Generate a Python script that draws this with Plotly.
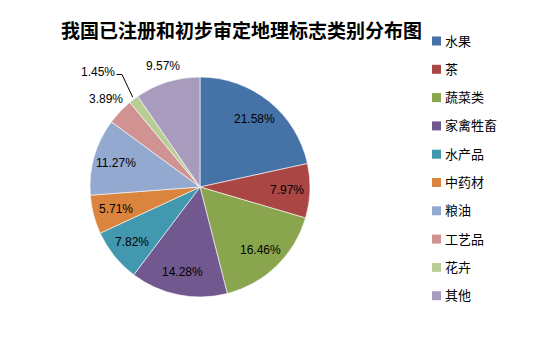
import math
import plotly.graph_objects as go

categories = ["水果", "茶", "蔬菜类", "家禽牲畜", "水产品", "中药材", "粮油", "工艺品", "花卉", "其他"]
shares = [21.58, 7.97, 16.46, 14.28, 7.82, 5.71, 11.27, 3.89, 1.45, 9.57]
colors = ["#4572A7", "#AA4643", "#89A54E", "#71588F", "#4198AF",
          "#DB843D", "#93A9CF", "#D19392", "#B9CD96", "#A99BBD"]
title_text = "我国已注册和初步审定地理标志类别分布图"

W, H = 553, 363
CX, CY, R = 200.0, 187.0, 110.0

# label radius as fraction of pie radius (layout only)
label_rad = [0.79, 0.79, 0.79, 0.79, 0.79, 0.79, 0.79, 1.17, 1.40, 1.15]

fig = go.Figure()
fig.add_trace(go.Pie(
    labels=categories, values=shares, sort=False, direction="clockwise",
    rotation=0, marker=dict(colors=colors, line=dict(color="white", width=0.6)),
    textinfo="none", hoverinfo="label+percent", showlegend=False,
    domain=dict(x=[(CX - R) / W, (CX + R) / W], y=[1 - (CY + R) / H, 1 - (CY - R) / H]),
))

def px(x):
    return x / W

def py(y):
    return 1 - y / H

total = sum(shares)
cum = 0.0
annotations = []
shapes = []
for i, (cat, v) in enumerate(zip(categories, shares)):
    mid = (cum + v / 2) / total * 2 * math.pi
    cum += v
    sx, sy = math.sin(mid), -math.cos(mid)
    r = label_rad[i] * R
    lx, ly = CX + r * sx, CY + r * sy
    if i == 8:
        # leader line label
        ex, ey = CX + R * sx, CY + R * sy
        lx, ly = 98.0, 71.5
        shapes.append(dict(type="path", xref="paper", yref="paper",
                           path=f"M {px(ex-1)} {py(ey-2)} L {px(122)} {py(74.5)} L {px(116.5)} {py(74.5)}",
                           line=dict(color="black", width=1)))
    annotations.append(dict(x=px(lx), y=py(ly), xref="paper", yref="paper",
                            text=f"{v:.2f}%", showarrow=False,
                            font=dict(family="Liberation Sans, Arial, sans-serif", size=12, color="black"),
                            xanchor="center", yanchor="middle"))

# custom legend
for i, (cat, c) in enumerate(zip(categories, colors)):
    yc = 41.0 + i * 28.3
    shapes.append(dict(type="rect", xref="paper", yref="paper",
                       x0=px(432), x1=px(441), y0=py(yc + 4.5), y1=py(yc - 4.5),
                       fillcolor=c, line=dict(width=0)))
    annotations.append(dict(x=px(443), y=py(yc - 1), xref="paper", yref="paper",
                            text=cat, showarrow=False, xanchor="left", yanchor="middle",
                            font=dict(family="Noto Sans CJK SC, sans-serif", size=13, color="black")))

annotations.append(dict(x=px(241), y=py(30), xref="paper", yref="paper",
                        text=f"<b>{title_text}</b>", showarrow=False,
                        xanchor="center", yanchor="middle",
                        font=dict(family="Noto Sans CJK SC, sans-serif", size=19, color="black")))

fig.update_layout(
    width=W, height=H, margin=dict(l=0, r=0, t=0, b=0),
    paper_bgcolor="white", plot_bgcolor="white",
    annotations=annotations, shapes=shapes, showlegend=False,
)
fig.write_html("out.html", config={"displayModeBar": False},
               post_script="document.body.style.margin='0px';document.body.style.overflow='hidden';")
